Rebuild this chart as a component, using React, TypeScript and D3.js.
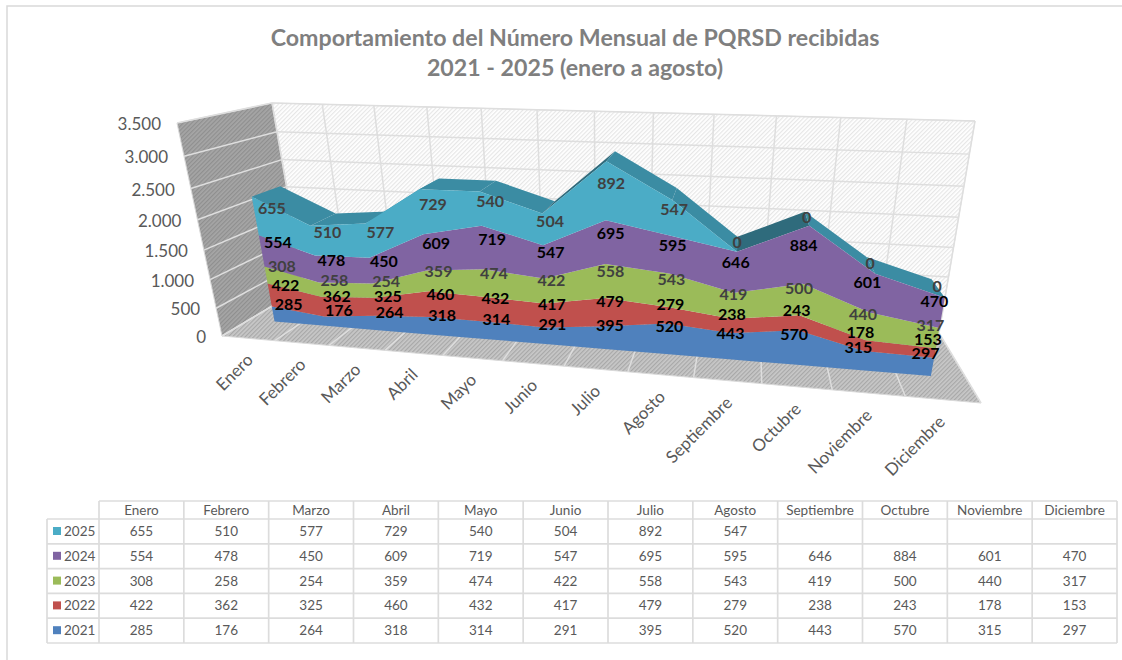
import React from 'react';
import * as d3 from 'd3';

const months = ['Enero', 'Febrero', 'Marzo', 'Abril', 'Mayo', 'Junio', 'Julio', 'Agosto', 'Septiembre', 'Octubre', 'Noviembre', 'Diciembre'];
const years = ['2025', '2024', '2023', '2022', '2021'];
const v2025 = [655, 510, 577, 729, 540, 504, 892, 547, null, null, null, null];
const v2024 = [554, 478, 450, 609, 719, 547, 695, 595, 646, 884, 601, 470];
const v2023 = [308, 258, 254, 359, 474, 422, 558, 543, 419, 500, 440, 317];
const v2022 = [422, 362, 325, 460, 432, 417, 479, 279, 238, 243, 178, 153];
const v2021 = [285, 176, 264, 318, 314, 291, 395, 520, 443, 570, 315, 297];
const yTicks = [0, 500, 1000, 1500, 2000, 2500, 3000, 3500];
const darkFacets = ['Junio', 'Septiembre'];

const seriesValues: Record<string, (number | null)[]> = { '2025': v2025, '2024': v2024, '2023': v2023, '2022': v2022, '2021': v2021 };
const colors: Record<string, string> = { '2025': '#4bacc6', '2024': '#8064a2', '2023': '#9bbb59', '2022': '#c0504d', '2021': '#4f81bd' };
const labelColors: Record<string, string> = { '2025': '#404040', '2024': '#000', '2023': '#404040', '2022': '#000', '2021': '#000' };

type Pt = [number, number];

// maps the unit square on a quad: (0,0) (1,0) (1,1) (0,1)
function homography([p0, p1, p2, p3]: Pt[]) {
  const dx1 = p1[0] - p2[0], dx2 = p3[0] - p2[0], dx3 = p0[0] - p1[0] + p2[0] - p3[0];
  const dy1 = p1[1] - p2[1], dy2 = p3[1] - p2[1], dy3 = p0[1] - p1[1] + p2[1] - p3[1];
  const det = dx1 * dy2 - dx2 * dy1;
  const g = (dx3 * dy2 - dx2 * dy3) / det;
  const h = (dx1 * dy3 - dx3 * dy1) / det;
  const a = p1[0] - p0[0] + g * p1[0], b = p3[0] - p0[0] + h * p3[0];
  const d = p1[1] - p0[1] + g * p1[1], e = p3[1] - p0[1] + h * p3[1];
  return (u: number, w: number): Pt => {
    const q = g * u + h * w + 1;
    return [(a * u + b * w + p0[0]) / q, (d * u + e * w + p0[1]) / q];
  };
}

// floor and ceiling of the 3D box, corners
const floor = homography([[222, 336], [981, 403], [939, 333], [304, 287]]);
const ceiling = homography([[177, 123], [1034, 150], [975, 121], [272, 103]]);
// height perspective: the top of the box is nearer than the floor
const H_PERSP = 0.9;
const project = (u: number, v: number, w: number): Pt => {
  const f = floor(u, w), c = ceiling(u, w);
  const t = (H_PERSP * v) / (1 + (H_PERSP - 1) * v);
  return [f[0] + (c[0] - f[0]) * t, f[1] + (c[1] - f[1]) * t];
};

const W_FRONT = 0.3;
const W_BACK = 0.63;
const W_MID = 0.49;

const uBand = d3.scaleBand<string>().domain(months).range([0, 1]);
const uOf = (m: string) => uBand(m)! + uBand.bandwidth() / 2;
const vScale = d3.scaleLinear().domain([0, 3500]).range([0, 1]);

// category labels do not follow the floor edge exactly, their spacing grows steadily
const LABEL_OFFSET = 26;
const labelX = d3.scalePow().exponent(2).domain([LABEL_OFFSET, LABEL_OFFSET + months.length - 1]).range([254, 946]);
const labelY = d3.scaleLinear().domain([254, 946]).range([361, 423]);

const rows = months.map((m, i) => {
  const r: Record<string, any> = { month: m };
  years.forEach((y) => (r[y] = seriesValues[y][i] ?? 0));
  return r;
});
const stack = d3.stack<any>().keys([...years].reverse())(rows);

const poly = (pts: Pt[]) => d3.line()(pts)! + 'Z';
const fmt = (v: number) => d3.format(',')(v).replace(',', '.');

const colX = d3.scaleBand<string>().domain(months).range([99, 1117]);
const rowY = d3.scaleBand<string>().domain(years).range([519, 643]);
const TABLE_LEFT = 47;
const HEADER_TOP = 501;
const FONT = 'Lato, Carlito, sans-serif';

function Hatch({ id, bg, fg }: { id: string; bg: string; fg: string }) {
  return (
    <pattern id={id} width={3} height={3} patternUnits="userSpaceOnUse" patternTransform="rotate(-45)">
      <rect width={3} height={3} fill={bg} />
      <rect width={3} height={1.2} fill={fg} />
    </pattern>
  );
}

export default function App() {
  const top = stack[stack.length - 1];
  const areaGen = d3
    .area<any>()
    .x0((d) => project(uOf(d.data.month), vScale(d[0]), W_FRONT)[0])
    .y0((d) => project(uOf(d.data.month), vScale(d[0]), W_FRONT)[1])
    .x1((d) => project(uOf(d.data.month), vScale(d[1]), W_FRONT)[0])
    .y1((d) => project(uOf(d.data.month), vScale(d[1]), W_FRONT)[1]);

  return (
    <svg width={1122} height={660} style={{ position: 'absolute', left: 0, top: 0, background: '#fff', fontFamily: FONT }}>
      <defs>
        <Hatch id="hatchBack" bg="#ffffff" fg="#e6e6e6" />
        <Hatch id="hatchLeft" bg="#a6a6a6" fg="#8f8f8f" />
        <Hatch id="hatchFloor" bg="#c8c8c8" fg="#a8a8a8" />
      </defs>

      {/* chart frame */}
      <path d="M7,660V6H1122" fill="none" stroke="#d9d9d9" strokeWidth={1.5} />

      <text x={575} y={46} textAnchor="middle" fontSize={23.2} fontWeight={700} fill="#7f7f7f">
        Comportamiento del Número Mensual de PQRSD recibidas
      </text>
      <text x={575} y={76} textAnchor="middle" fontSize={23.2} fontWeight={700} fill="#7f7f7f">
        2021 - 2025 (enero a agosto)
      </text>

      {/* walls */}
      <path d={poly([project(0, 0, 1), project(1, 0, 1), project(1, 1, 1), project(0, 1, 1)])} fill="url(#hatchBack)" stroke="#e0e0e0" />
      <path d={poly([project(0, 0, 0), project(0, 0, 1), project(0, 1, 1), project(0, 1, 0)])} fill="url(#hatchLeft)" stroke="#d9d9d9" />
      <path d={poly([project(0, 0, 0), project(1, 0, 0), project(1, 0, 1), project(0, 0, 1)])} fill="url(#hatchFloor)" stroke="#d9d9d9" />

      {/* gridlines */}
      {yTicks.map((t) => (
        <g key={t} stroke="#dedede" strokeWidth={1.5}>
          <path d={d3.line()([project(0, vScale(t), 1), project(1, vScale(t), 1)])!} />
          <path d={d3.line()([project(0, vScale(t), 0), project(0, vScale(t), 1)])!} />
        </g>
      ))}
      {d3.range(months.length + 1).map((i) => {
        const u = i / months.length;
        return (
          <g key={i} stroke="#dedede" strokeWidth={1.5}>
            <path d={d3.line()([project(u, 0, 1), project(u, 1, 1)])!} />
            <path d={d3.line()([project(u, 0, 0), project(u, 0, 1)])!} />
          </g>
        );
      })}

      {/* top of the slab */}
      {top.slice(0, -1).map((d: any, i: number) => {
        const u0 = uOf(months[i]), u1 = uOf(months[i + 1]);
        const v0 = vScale(d[1]), v1 = vScale(top[i + 1][1]);
        const fill = darkFacets.includes(months[i]) ? '#2f6b7c' : '#3b8ca3';
        return <path key={i} d={poly([project(u0, v0, W_FRONT), project(u1, v1, W_FRONT), project(u1, v1, W_BACK), project(u0, v0, W_BACK)])} fill={fill} />;
      })}

      {/* front faces */}
      {stack.map((s) => (
        <path key={s.key} d={areaGen(s as any)!} fill={colors[s.key]} />
      ))}

      {/* y axis */}
      {yTicks.map((t) => {
        const p = project(0, vScale(t), 0);
        return (
          <text key={t} x={p[0] - 16} y={p[1] + 7} textAnchor="end" fontSize={17} fill="#595959">
            {fmt(t)}
          </text>
        );
      })}

      {/* x axis */}
      {months.map((m, i) => {
        const x = labelX(i + LABEL_OFFSET);
        return (
          <text key={m} transform={`translate(${x},${labelY(x)}) rotate(-45)`} textAnchor="end" fontSize={17} fill="#595959">
            {m}
          </text>
        );
      })}

      {/* data labels: top series first so the lower ones overlap it */}
      {[...stack].reverse().map((s) =>
        s.map((d: any, i: number) => {
          const p = project(uOf(months[i]), vScale((d[0] + d[1]) / 2), W_MID);
          return (
            <text key={s.key + i} x={p[0]} y={p[1] + 5} textAnchor="middle" fontSize={16} fontWeight={700} fill={labelColors[s.key]}>
              {d[1] - d[0]}
            </text>
          );
        })
      )}

      {/* data table */}
      <g stroke="#dcdcdc" strokeWidth={1.7} fill="none">
        <path d={`M${colX.range()[0]},${HEADER_TOP}H${colX.range()[1]}`} />
        <path d={`M${TABLE_LEFT},${rowY.range()[0]}H${colX.range()[1]}`} />
        {years.map((y) => (
          <path key={y} d={`M${TABLE_LEFT},${rowY(y)! + rowY.bandwidth()}H${colX.range()[1]}`} />
        ))}
        <path d={`M${TABLE_LEFT},${rowY.range()[0]}V${rowY.range()[1]}`} />
        <path d={`M${colX.range()[0]},${HEADER_TOP}V${rowY.range()[1]}`} />
        {months.map((m) => (
          <path key={m} d={`M${colX(m)! + colX.bandwidth()},${HEADER_TOP}V${rowY.range()[1]}`} />
        ))}
      </g>
      {months.map((m) => (
        <text key={m} x={colX(m)! + colX.bandwidth() / 2} y={515} textAnchor="middle" fontSize={13.5} fill="#595959">
          {m}
        </text>
      ))}
      {years.map((y) => (
        <g key={y}>
          <rect x={53} y={rowY(y)! + 8} width={8} height={8} fill={colors[y]} />
          <text x={64} y={rowY(y)! + 17} fontSize={13.5} fill="#595959">
            {y}
          </text>
          {months.map((m, i) => (
            <text key={m} x={colX(m)! + colX.bandwidth() / 2} y={rowY(y)! + 17} textAnchor="middle" fontSize={13.5} fill="#595959">
              {seriesValues[y][i] ?? ''}
            </text>
          ))}
        </g>
      ))}
    </svg>
  );
}
